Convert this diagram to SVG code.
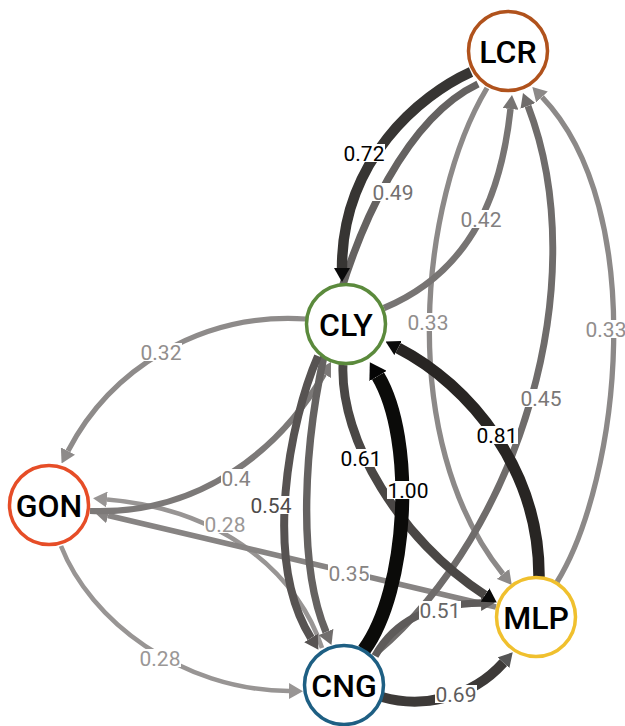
<svg xmlns="http://www.w3.org/2000/svg" width="625" height="726" viewBox="0 0 625 726">
<style>
  .edge{fill:none;stroke-linecap:butt}
  .node circle{fill:#fff;stroke-width:3.5}
  .node text{font-family:Roboto,"Liberation Sans",sans-serif;font-size:32px;font-weight:500;text-anchor:middle;fill:#000}
  .lbl rect{fill:#fff}
  .lbl text{font-family:Roboto,"Liberation Sans",sans-serif;font-size:21px;text-anchor:middle}
</style>
<defs>
  <marker id="mk" markerUnits="userSpaceOnUse" markerWidth="14" markerHeight="16" refX="0" refY="8" orient="auto"><path d="M0,0L14,8L0,16z" fill="#0a0a0a"/></marker>
  <marker id="mbig" markerUnits="userSpaceOnUse" markerWidth="16" markerHeight="20" refX="0" refY="10" orient="auto"><path d="M0,0L16,10L0,20z" fill="#050505"/></marker>
  <marker id="m55" markerUnits="userSpaceOnUse" markerWidth="14" markerHeight="16" refX="0" refY="8" orient="auto"><path d="M0,0L14,8L0,16z" fill="#555"/></marker>
  <marker id="m57" markerUnits="userSpaceOnUse" markerWidth="14" markerHeight="16" refX="0" refY="8" orient="auto"><path d="M0,0L14,8L0,16z" fill="#575352"/></marker>
  <marker id="m5e" markerUnits="userSpaceOnUse" markerWidth="14" markerHeight="16" refX="0" refY="8" orient="auto"><path d="M0,0L14,8L0,16z" fill="#5e5b5a"/></marker>
  <marker id="m65" markerUnits="userSpaceOnUse" markerWidth="14" markerHeight="16" refX="0" refY="8" orient="auto"><path d="M0,0L14,8L0,16z" fill="#716e6d"/></marker>
  <marker id="m6f" markerUnits="userSpaceOnUse" markerWidth="14" markerHeight="16" refX="0" refY="8" orient="auto"><path d="M0,0L14,8L0,16z" fill="#6f6c6b"/></marker>
  <marker id="m77" markerUnits="userSpaceOnUse" markerWidth="14" markerHeight="16" refX="0" refY="8" orient="auto"><path d="M0,0L14,8L0,16z" fill="#777473"/></marker>
  <marker id="m7c" markerUnits="userSpaceOnUse" markerWidth="14" markerHeight="16" refX="0" refY="8" orient="auto"><path d="M0,0L14,8L0,16z" fill="#7c7978"/></marker>
  <marker id="m87" markerUnits="userSpaceOnUse" markerWidth="14" markerHeight="16" refX="0" refY="8" orient="auto"><path d="M0,0L14,8L0,16z" fill="#878483"/></marker>
  <marker id="m8c" markerUnits="userSpaceOnUse" markerWidth="14" markerHeight="16" refX="0" refY="8" orient="auto"><path d="M0,0L14,8L0,16z" fill="#8c8988"/></marker>
  <marker id="m8e" markerUnits="userSpaceOnUse" markerWidth="14" markerHeight="16" refX="0" refY="8" orient="auto"><path d="M0,0L14,8L0,16z" fill="#8e8b8a"/></marker>
  <marker id="m98" markerUnits="userSpaceOnUse" markerWidth="14" markerHeight="16" refX="0" refY="8" orient="auto"><path d="M0,0L14,8L0,16z" fill="#989594"/></marker>
</defs>
<rect width="625" height="726" fill="#fff"/>
<g id="connectors">
  <path id="e-gon-cng" class="edge" d="M61,546 C90,620 180,690 289,691" stroke="#989594" stroke-width="4.6" marker-end="url(#m98)"/>
  <path id="e-cng-gon" class="edge" d="M322,648 C300,580 230,510 107,499.5" stroke="#989594" stroke-width="4.6" marker-end="url(#m98)"/>
  <path id="e-cly-gon" class="edge" d="M306,319 C200,312 110,370 68,451" stroke="#8e8b8a" stroke-width="5.2" marker-end="url(#m8e)"/>
  <path id="e-lcr-mlp" class="edge" d="M487,88 C420,200 395,440 503,574" stroke="#8c8988" stroke-width="5.3" marker-end="url(#m8c)"/>
  <path id="e-mlp-lcr" class="edge" d="M557,582 C620,480 650,210 542,97" stroke="#8c8988" stroke-width="5.3" marker-end="url(#m8c)"/>
  <path id="e-mlp-gon" class="edge" d="M496,607 L108,515.5" stroke="#878483" stroke-width="5.6" marker-end="url(#m87)"/>
  <path id="e-gon-cly" class="edge" d="M90,511 C200,515 280,450 324,374" stroke="#7c7978" stroke-width="6.2" marker-end="url(#m7c)"/>
  <path id="e-cly-lcr" class="edge" d="M384,308 C475,270 502,188 510.5,109" stroke="#777473" stroke-width="6.5" marker-end="url(#m77)"/>
  <path id="e-cng-lcr" class="edge" d="M377,652 C520,530 595,280 528,106" stroke="#6f6c6b" stroke-width="6.9" marker-end="url(#m6f)"/>
  <path id="e-lcr-cng" class="edge" d="M478,84 C340,150 270,500 326,632" stroke="#656261" stroke-width="7.4" marker-end="url(#m65)"/>
  <path id="e-cng-mlp-51" class="edge" d="M375,656 C395,620 430,604 481,603" stroke="#5e5b5a" stroke-width="7.6" marker-end="url(#m5e)"/>
  <path id="e-cly-cng" class="edge" d="M318,356 C290,420 262,560 311,638" stroke="#575352" stroke-width="8" marker-end="url(#m57)"/>
  <path id="e-cly-mlp" class="edge" d="M343,365 C340,440 400,540 485,595" stroke="#4a4745" stroke-width="8.9" marker-end="url(#mk)"/>
  <path id="e-cng-mlp-69" class="edge" d="M382,697 C420,708 470,700 503.4,662.7" stroke="#3d3a38" stroke-width="10" marker-end="url(#m55)"/>
  <path id="e-lcr-cly" class="edge" d="M471,72 C420,95 342,160 342,268" stroke="#373533" stroke-width="10.4" marker-end="url(#mk)"/>
  <path id="e-mlp-cly" class="edge" d="M539,578 C540,470 470,385 398,348" stroke="#282523" stroke-width="11.5" marker-end="url(#mk)"/>
  <path id="e-cng-cly" class="edge" d="M364,650 C408,590 416,440 378,376" stroke="#0b0b09" stroke-width="14" marker-end="url(#mbig)"/>
</g>
<g id="labels">
  <g class="lbl"><rect x="139" y="649" width="42" height="18"/><text x="160" y="665.5" fill="#9a9796">0.28</text></g>
  <g class="lbl"><rect x="204" y="515" width="42" height="18"/><text x="225" y="531.5" fill="#9a9796">0.28</text></g>
  <g class="lbl"><rect x="140" y="343" width="42" height="18"/><text x="161" y="359.5" fill="#918e8d">0.32</text></g>
  <g class="lbl"><rect x="407" y="313" width="42" height="18"/><text x="428" y="329.5" fill="#918e8d">0.33</text></g>
  <g class="lbl"><rect x="585" y="320" width="42" height="18"/><text x="606" y="336.5" fill="#918e8d">0.33</text></g>
  <g class="lbl"><rect x="328" y="564" width="42" height="18"/><text x="349" y="580.5" fill="#878483">0.35</text></g>
  <g class="lbl"><rect x="221" y="469" width="30" height="18"/><text x="236" y="485.5" fill="#868382">0.4</text></g>
  <g class="lbl"><rect x="460" y="210" width="42" height="18"/><text x="481" y="226.5" fill="#828080">0.42</text></g>
  <g class="lbl"><rect x="520" y="389" width="42" height="18"/><text x="541" y="405.5" fill="#7a7776">0.45</text></g>
  <g class="lbl"><rect x="372" y="183" width="42" height="18"/><text x="393" y="199.5" fill="#73706f">0.49</text></g>
  <g class="lbl"><rect x="419" y="601" width="42" height="18"/><text x="440" y="617.5" fill="#666">0.51</text></g>
  <g class="lbl"><rect x="250" y="496" width="42" height="18"/><text x="271" y="512.5" fill="#4e4b4a">0.54</text></g>
  <g class="lbl"><rect x="340" y="449" width="42" height="18"/><text x="361" y="465.5" fill="#000">0.61</text></g>
  <g class="lbl"><rect x="435" y="685" width="42" height="18"/><text x="456" y="701.5" fill="#5e5c5b">0.69</text></g>
  <g class="lbl"><rect x="343" y="144" width="42" height="18"/><text x="364" y="160.5" fill="#000">0.72</text></g>
  <g class="lbl"><rect x="476" y="426" width="42" height="18"/><text x="497" y="442.5" fill="#000">0.81</text></g>
  <g class="lbl"><rect x="387" y="481" width="42" height="18"/><text x="408" y="497.5" fill="#000">1.00</text></g>
</g>
<g id="node-LCR" class="node"><circle cx="508" cy="51" r="39.5" stroke="#b0521c"/><text x="508" y="62.5">LCR</text></g>
<g id="node-CLY" class="node"><circle cx="346" cy="324" r="39.5" stroke="#5b8a3c"/><text x="346" y="335.5">CLY</text></g>
<g id="node-GON" class="node"><circle cx="49" cy="505" r="39.5" stroke="#e64d27"/><text x="49" y="516.5">GON</text></g>
<g id="node-CNG" class="node"><circle cx="344" cy="685" r="39.5" stroke="#1e5f83"/><text x="344" y="696.5">CNG</text></g>
<g id="node-MLP" class="node"><circle cx="536" cy="617" r="39.5" stroke="#f0c02e"/><text x="536" y="628.5">MLP</text></g>
</svg>
